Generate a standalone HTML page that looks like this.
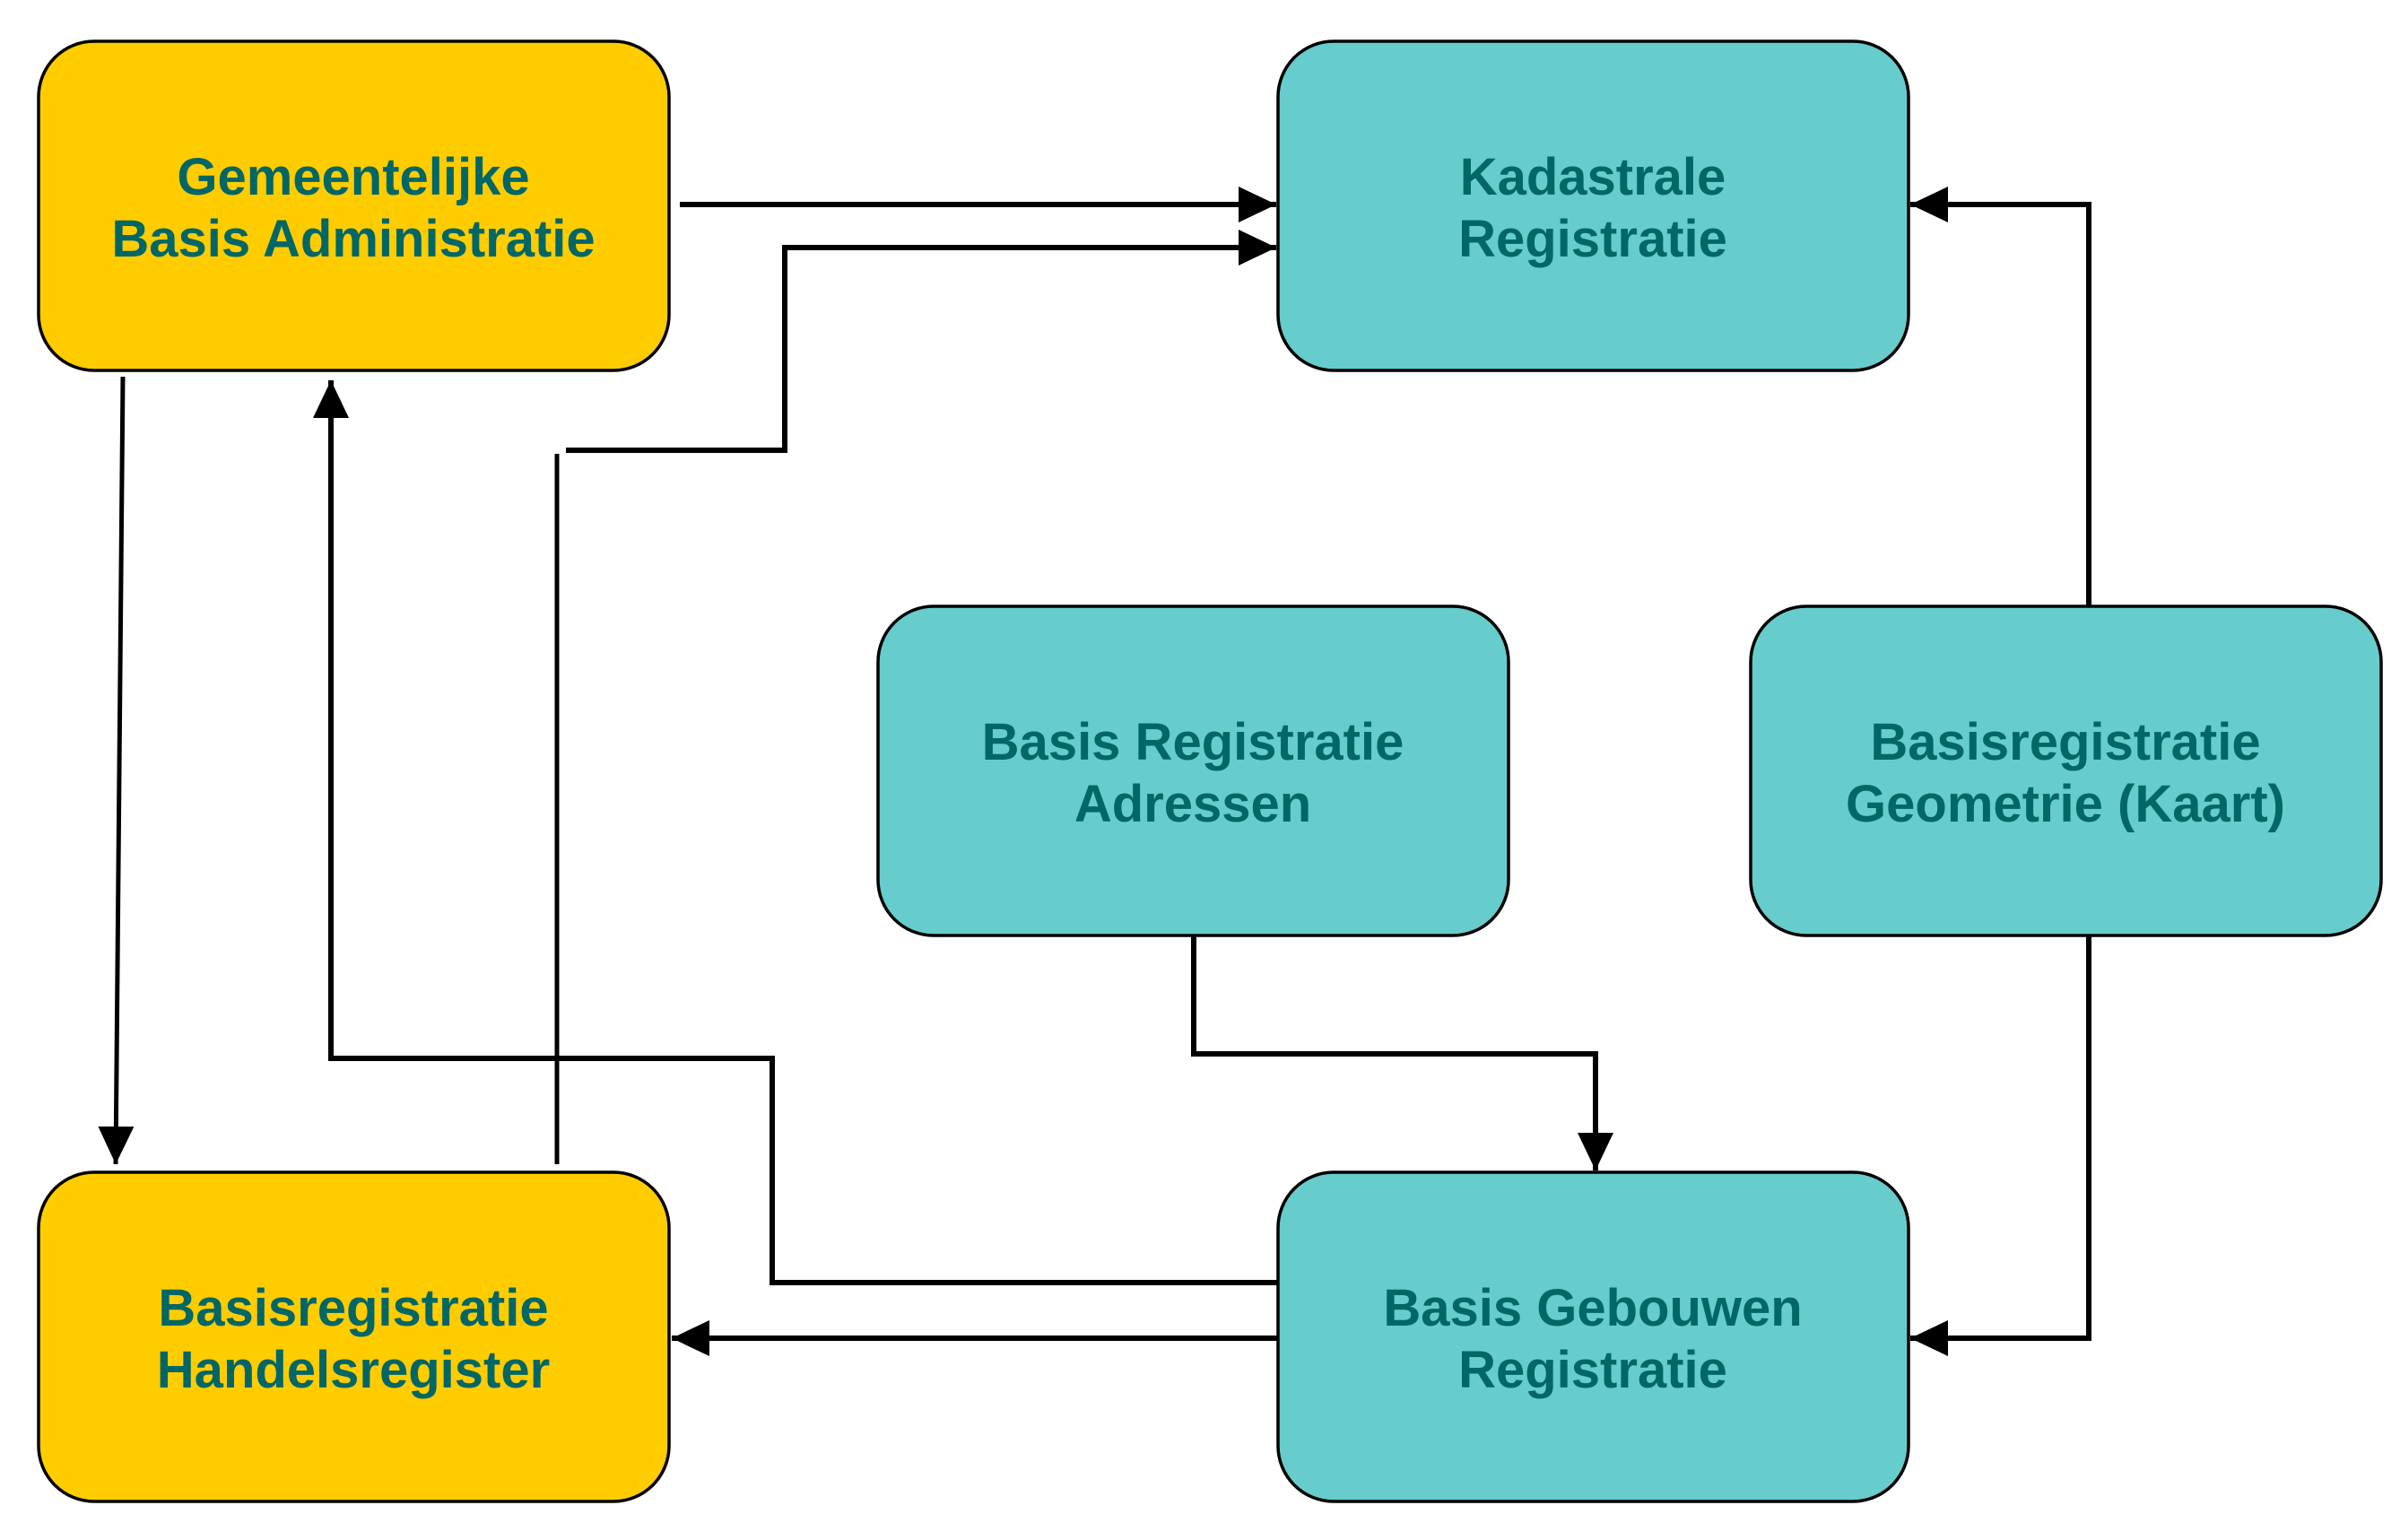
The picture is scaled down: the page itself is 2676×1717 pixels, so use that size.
<!DOCTYPE html>
<html><head><meta charset="utf-8"><style>
html,body{margin:0;padding:0;background:#fff;}
svg{display:block;}
text{font-family:"Liberation Sans",Arial,sans-serif;font-weight:bold;font-size:58px;fill:#006666;text-anchor:middle;}
</style></head><body>
<svg width="2676" height="1717" viewBox="0 0 2676 1717" xmlns="http://www.w3.org/2000/svg">
<defs>
<marker id="a" markerUnits="userSpaceOnUse" markerWidth="44" markerHeight="44" refX="42" refY="20" orient="auto">
<polygon points="0,0 42,20 0,40" fill="#000"/>
</marker>
</defs>
<g stroke="#000" stroke-width="3.5">
<rect x="43" y="46" width="703" height="367" rx="62" ry="62" fill="#FFCC00"/>
<rect x="1425" y="46" width="703" height="367" rx="62" ry="62" fill="#66CCCC"/>
<rect x="979" y="676" width="703" height="367" rx="62" ry="62" fill="#66CCCC"/>
<rect x="1952" y="676" width="703" height="367" rx="62" ry="62" fill="#66CCCC"/>
<rect x="43" y="1307" width="703" height="367" rx="62" ry="62" fill="#FFCC00"/>
<rect x="1425" y="1307" width="703" height="367" rx="62" ry="62" fill="#66CCCC"/>
</g>
<g fill="none" stroke="#000" stroke-width="6">
<line x1="758" y1="228" x2="1423" y2="228" marker-end="url(#a)"/>
<polyline points="631,502 875,502 875,276 1423,276" marker-end="url(#a)"/>
<line x1="621" y1="506" x2="621" y2="1298" stroke-width="5"/>
<line x1="137" y1="420" x2="129" y2="1298" stroke-width="5" marker-end="url(#a)"/>
<polyline points="1425,1430 861,1430 861,1180 369,1180 369,424" marker-end="url(#a)"/>
<line x1="1425" y1="1492" x2="749" y2="1492" marker-end="url(#a)"/>
<polyline points="1331,1043 1331,1175 1779,1175 1779,1305" marker-end="url(#a)"/>
<polyline points="2329,676 2329,228 2130,228" marker-end="url(#a)"/>
<polyline points="2329,1043 2329,1492 2130,1492" marker-end="url(#a)"/>
</g>
<text x="394" y="217">Gemeentelijke</text>
<text x="394" y="286">Basis Administratie</text>
<text x="1776" y="217">Kadastrale</text>
<text x="1776" y="286">Registratie</text>
<text x="1330" y="847">Basis Registratie</text>
<text x="1330" y="916">Adressen</text>
<text x="2303" y="847">Basisregistratie</text>
<text x="2303" y="916">Geometrie (Kaart)</text>
<text x="394" y="1478">Basisregistratie</text>
<text x="394" y="1547">Handelsregister</text>
<text x="1776" y="1478">Basis Gebouwen</text>
<text x="1776" y="1547">Registratie</text>
</svg>
</body></html>
